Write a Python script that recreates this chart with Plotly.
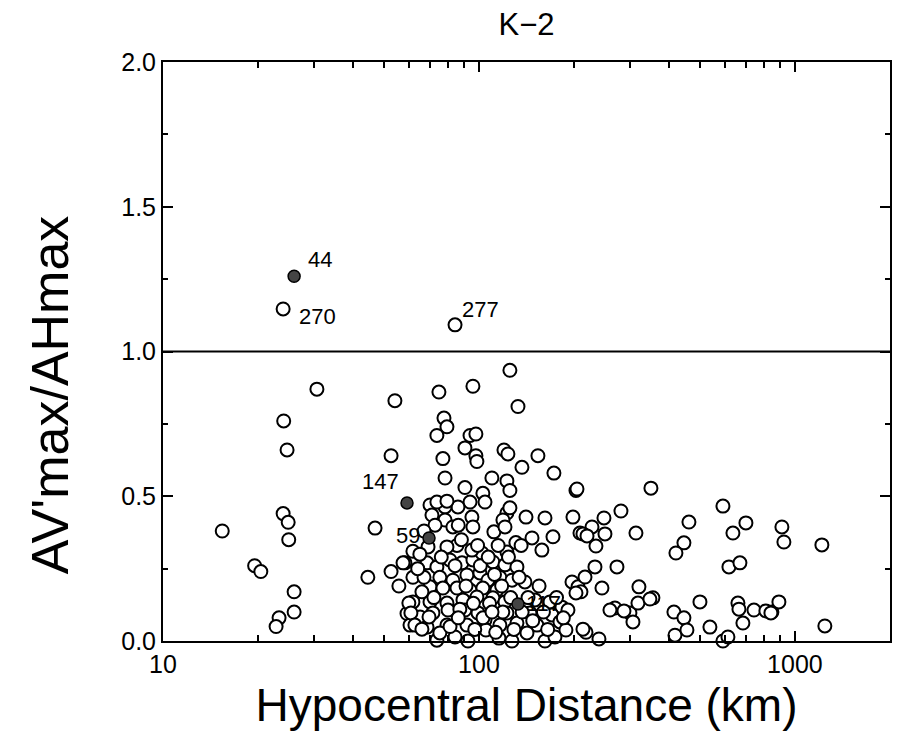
import math
import plotly.graph_objects as go

# ---- data (hypocentral distance km, AV'max/AHmax ratio) ----
open_x = [
    15.4, 19.5, 20.4, 24.1, 24.7, 24.0, 24.9, 25.0, 26.0, 26.0, 23.3, 22.8,
    30.7, 54.2, 74.7, 95.7, 132.9, 125.3, 52.7, 46.9, 44.5, 52.7, 55.8, 58.3,
    61.8, 61.8, 61.8, 59.2, 77.5, 79.2, 73.6, 93.7, 97.8, 90.3, 120.0, 123.5,
    97.8, 98.5, 153.7, 136.8, 172.7, 76.9, 78.1, 109.9, 122.6, 125.3, 90.3, 102.9,
    202.8, 104.5, 93.7, 85.8, 78.1, 70.0, 73.6, 79.2, 71.0, 78.1, 95.0, 72.6,
    82.7, 95.7, 122.6, 125.3, 119.1, 140.9, 161.8, 198.4, 111.5, 120.9, 130.9, 122.6,
    147.2, 158.2, 171.5, 208.8, 85.2, 79.2, 69.0, 57.5, 68.5, 73.6, 80.9, 88.4,
    95.7, 102.2, 95.0, 110.7, 120.9, 131.9, 75.2, 82.7, 91.6, 100.7, 106.8, 116.5,
    127.2, 139.8, 70.0, 76.9, 85.2, 93.7, 102.9, 114.0, 197.0, 205.8, 70.0, 79.2,
    89.0, 98.5, 110.7, 120.9, 150.4, 167.8, 183.1, 191.3, 65.1, 71.5, 79.8, 90.3,
    99.3, 122.6, 145.0, 170.2, 60.5, 68.5, 79.2, 91.6, 104.5, 116.5, 131.9, 152.6,
    180.5, 60.0, 60.9, 62.7, 66.0, 69.5, 73.6, 75.2, 84.0, 92.3, 105.2, 115.7,
    127.2, 141.9, 161.8, 174.0, 188.5, 218.2, 210.3, 239.8, 269.4, 300.5, 307.2, 355.3,
    414.1, 417.2, 445.4, 455.3, 500.6, 538.3, 591.9, 613.8, 684.6, 742.0, 845.7, 890.0,
    1244.0, 204.3, 350.2, 591.9, 227.9, 248.7, 281.5, 314.0, 213.4, 219.8, 250.5, 234.6,
    462.0, 445.4, 420.2, 636.6, 699.8, 909.6, 923.0, 1217.3, 618.3, 669.9, 232.9, 273.4,
    216.6, 202.8, 245.1, 320.9, 318.6, 347.6, 259.8, 287.7, 660.2, 665.1, 809.4, 839.6,
    213.4,
    65.0, 67.0, 72.0, 76.0, 84.0, 87.0, 88.0, 91.0, 96.0, 101.0, 103.0, 107.0,
    108.0, 112.0, 113.0, 118.0, 119.0, 124.0, 126.0, 129.0, 134.0, 136.0, 143.0, 148.0,
    155.0, 160.0, 165.0, 176.0, 185.0, 66.0, 81.0, 86.0, 97.0, 110.0, 137.0, 99.0,
    86.0, 115.0, 67.0, 64.0,
]
open_y = [
    0.38, 0.26, 0.24, 0.76, 0.66, 0.44, 0.41, 0.35, 0.17, 0.10, 0.08, 0.05,
    0.87, 0.83, 0.86, 0.88, 0.81, 0.935, 0.64, 0.39, 0.22, 0.24, 0.19, 0.27,
    0.31, 0.22, 0.135, 0.095, 0.77, 0.74, 0.71, 0.71, 0.715, 0.667, 0.66, 0.646,
    0.64, 0.62, 0.64, 0.60, 0.58, 0.63, 0.563, 0.563, 0.553, 0.52, 0.53, 0.51,
    0.52, 0.48, 0.48, 0.463, 0.463, 0.47, 0.48, 0.483, 0.435, 0.418, 0.428, 0.40,
    0.394, 0.394, 0.442, 0.46, 0.418, 0.428, 0.425, 0.428, 0.377, 0.394, 0.34, 0.307,
    0.356, 0.314, 0.36, 0.373, 0.33, 0.325, 0.325, 0.27, 0.27, 0.256, 0.28, 0.27,
    0.28, 0.304, 0.314, 0.273, 0.263, 0.256, 0.22, 0.21, 0.228, 0.235, 0.21, 0.22,
    0.21, 0.204, 0.187, 0.183, 0.183, 0.176, 0.183, 0.176, 0.204, 0.187, 0.135, 0.131,
    0.142, 0.152, 0.149, 0.135, 0.142, 0.135, 0.117, 0.107, 0.083, 0.097, 0.107, 0.107,
    0.097, 0.097, 0.097, 0.09, 0.055, 0.048, 0.055, 0.055, 0.073, 0.055, 0.062, 0.055,
    0.066, 0.131, 0.097, 0.055, 0.041, 0.083, 0.003, 0.028, 0.014, 0.0, 0.038, 0.01,
    0.0, 0.028, 0.0, 0.014, 0.038, 0.03, 0.17, 0.007, 0.114, 0.097, 0.066, 0.149,
    0.10, 0.02, 0.08, 0.038, 0.135, 0.048, 0.0, 0.014, 0.062, 0.107, 0.10, 0.135,
    0.052, 0.525, 0.528, 0.466, 0.394, 0.425, 0.449, 0.373, 0.37, 0.363, 0.37, 0.328,
    0.411, 0.339, 0.304, 0.373, 0.408, 0.394, 0.342, 0.332, 0.256, 0.27, 0.256, 0.256,
    0.221, 0.166, 0.183, 0.187, 0.131, 0.145, 0.107, 0.104, 0.131, 0.11, 0.104, 0.097,
    0.041,
    0.30, 0.22, 0.15, 0.29, 0.26, 0.11, 0.35, 0.19, 0.13, 0.26, 0.08, 0.29,
    0.13, 0.23, 0.03, 0.19, 0.10, 0.29, 0.15, 0.04, 0.22, 0.33, 0.15, 0.07,
    0.19, 0.10, 0.04, 0.15, 0.08, 0.17, 0.05, 0.08, 0.04, 0.10, 0.10, 0.33,
    0.40, 0.33, 0.38, 0.25,
]

# labelled events
label_ids = ["44", "270", "277", "147", "59", "117"]
label_x = [26.0, 24.0, 84.0, 59.2, 69.5, 132.9]
label_y = [1.26, 1.147, 1.092, 0.477, 0.356, 0.128]
label_filled = [True, False, False, True, True, True]
label_dx = [26, 34, 25, -27, -21, 26]
label_dy = [17, -8, 15, 21, 2, 0]

x_tick_vals = [10, 100, 1000]
x_tick_text = ["10", "100", "1000"]
x_minor_vals = [20, 30, 40, 50, 60, 70, 80, 90, 200, 300, 400, 500, 600, 700, 800, 900, 2000]
y_tick_vals = [0.0, 0.5, 1.0, 1.5, 2.0]
y_tick_text = ["0.0", "0.5", "1.0", "1.5", "2.0"]

FONT = "Liberation Sans, Arial, sans-serif"
X_RANGE = [1, 3.301]
Y_RANGE = [0, 2.0]

fig = go.Figure()

fig.add_trace(go.Scatter(
    x=open_x, y=open_y, mode="markers",
    marker=dict(size=13, color="white", line=dict(color="black", width=2)),
    cliponaxis=False, showlegend=False,
))

ox = [x for x, f in zip(label_x, label_filled) if not f]
oy = [y for y, f in zip(label_y, label_filled) if not f]
fx = [x for x, f in zip(label_x, label_filled) if f]
fy = [y for y, f in zip(label_y, label_filled) if f]

fig.add_trace(go.Scatter(
    x=ox, y=oy, mode="markers",
    marker=dict(size=13, color="white", line=dict(color="black", width=2)),
    cliponaxis=False, showlegend=False,
))
fig.add_trace(go.Scatter(
    x=fx, y=fy, mode="markers",
    marker=dict(size=12, color="#444444", line=dict(color="black", width=1.5)),
    cliponaxis=False, showlegend=False,
))

for t, x, y, dx, dy in zip(label_ids, label_x, label_y, label_dx, label_dy):
    fig.add_annotation(x=math.log10(x), y=y, xref="x", yref="y", text=t, showarrow=False,
                       xshift=dx, yshift=dy,
                       font=dict(family=FONT, size=22, color="black"))

# y-axis title (placed as rotated text beside the axis)
fig.add_annotation(x=-0.155, y=0.425, xref="paper", yref="paper",
                   text="AV'max/AHmax", textangle=-90, showarrow=False,
                   xanchor="center", yanchor="middle",
                   font=dict(family=FONT, size=52, color="black"))

# reference line at ratio 1.0
fig.add_shape(type="line", xref="paper", yref="y", x0=0, x1=1, y0=1.0, y1=1.0,
              line=dict(color="black", width=2))

common_x = dict(
    type="log", range=X_RANGE, showgrid=False, zeroline=False,
    ticks="inside", ticklen=10, tickwidth=2, tickcolor="black",
    tickmode="array", tickvals=x_tick_vals,
    minor=dict(tickmode="array", tickvals=x_minor_vals, ticks="inside",
               ticklen=6, tickwidth=1.5, tickcolor="black", showgrid=False),
)
common_y = dict(
    range=Y_RANGE, showgrid=False, zeroline=False,
    ticks="inside", ticklen=10, tickwidth=2, tickcolor="black",
    tickmode="array", tickvals=y_tick_vals,
    minor=dict(tickmode="linear", tick0=0, dtick=0.25, ticks="inside",
               ticklen=5, tickwidth=1.5, tickcolor="black", showgrid=False),
)

fig.update_layout(
    width=903, height=750,
    margin=dict(l=163, r=13, t=62, b=109),
    paper_bgcolor="white", plot_bgcolor="white",
    font=dict(family=FONT, color="black"),
    title=dict(text="K\u22122", x=0.5, xref="paper", xanchor="center",
               y=1 - 24 / 750, yref="container", yanchor="middle",
               font=dict(family=FONT, size=31, color="black")),
    xaxis=dict(
        **common_x,
        showline=True, linecolor="black", linewidth=2, mirror=True,
        ticktext=x_tick_text,
        tickfont=dict(family=FONT, size=25, color="black"),
        title=dict(text="Hypocentral Distance (km)", standoff=12,
                   font=dict(family=FONT, size=46, color="black")),
    ),
    xaxis2=dict(
        **common_x, overlaying="x", side="top", showticklabels=False,
        showline=False,
    ),
    yaxis=dict(
        **common_y,
        showline=True, linecolor="black", linewidth=2, mirror=True,
        ticktext=y_tick_text,
        tickfont=dict(family=FONT, size=25, color="black"),
    ),
    yaxis2=dict(
        **common_y, overlaying="y", side="right", showticklabels=False,
        showline=False,
    ),
)

# invisible trace to activate the mirrored top/right tick axes
fig.add_trace(go.Scatter(x=[label_x[0]], y=[label_y[0]], xaxis="x2", yaxis="y2",
                         mode="markers", marker=dict(opacity=0), hoverinfo="skip",
                         showlegend=False))

fig.write_html("out.html")
